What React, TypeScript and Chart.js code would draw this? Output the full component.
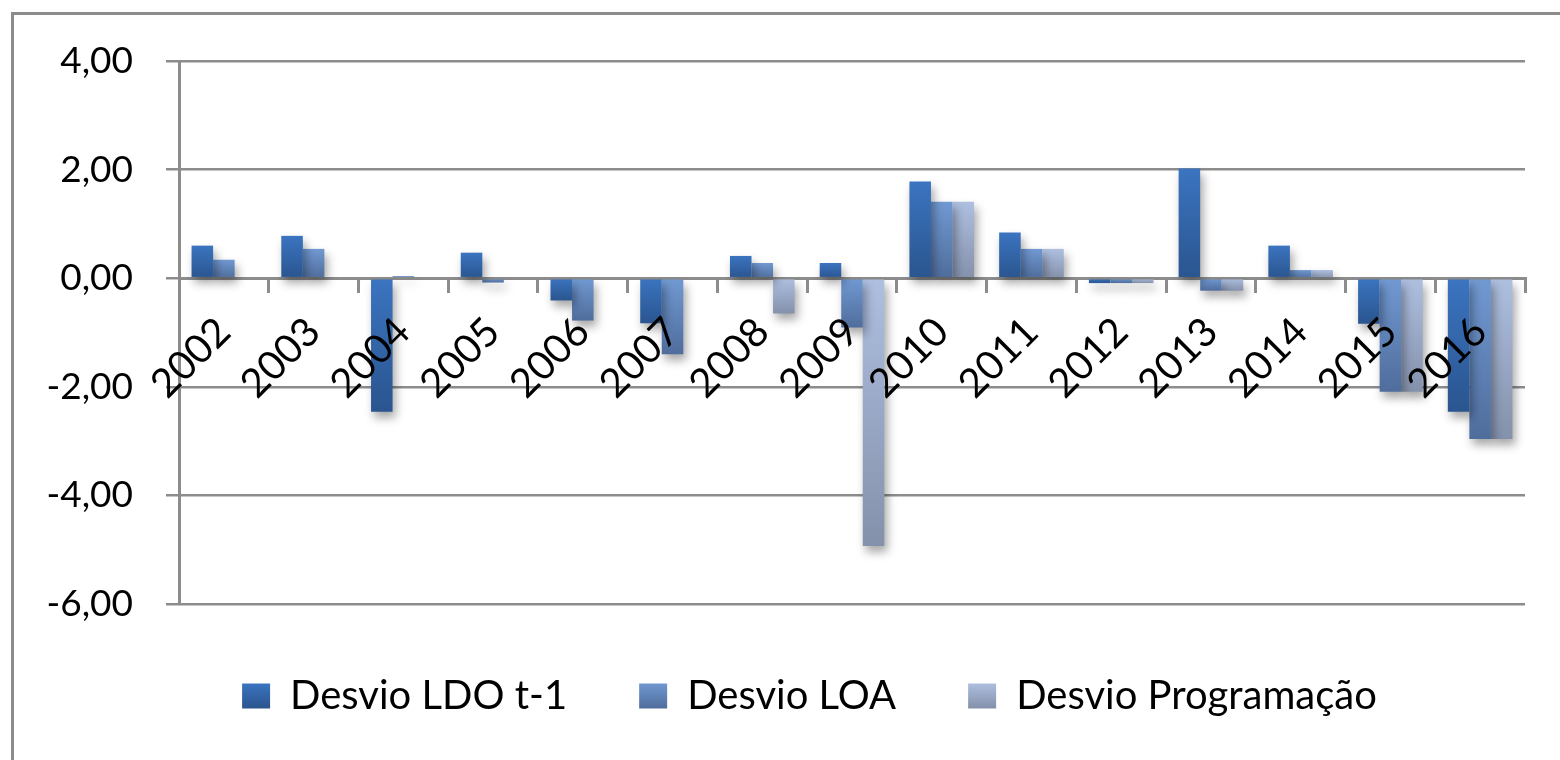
import React, { useEffect, useRef } from "react";
import { Chart, registerables } from "chart.js";

Chart.register(...registerables);

const categories = ["2002","2003","2004","2005","2006","2007","2008","2009","2010","2011","2012","2013","2014","2015","2016"];
const desvioLDO = [0.60, 0.78, -2.46, 0.47, -0.41, -0.83, 0.41, 0.28, 1.78, 0.84, -0.09, 2.02, 0.60, -0.84, -2.46];
const desvioLOA = [0.34, 0.54, 0.04, -0.08, -0.78, -1.40, 0.28, -0.91, 1.41, 0.54, -0.09, -0.23, 0.15, -2.09, -2.96];
const desvioProg = [0, 0, 0, 0, 0, 0, -0.65, -4.93, 1.41, 0.54, -0.09, -0.23, 0.15, -2.09, -2.96];
const seriesNames = ["Desvio LDO t-1", "Desvio LOA", "Desvio Programação"];
const seriesColors: [string, string][] = [
  ["#3b74c0", "#2a558f"],
  ["#7199d2", "#4f6d9c"],
  ["#aebfe0", "#8491ab"],
];
const yTicks = { min: -6, max: 4, step: 2 };

const FONT = "Lato, 'Open Sans', sans-serif";
const GRID = "#8c8c8c";
const LEGEND_SHIFT = 47;

function gradientFill(colors: [string, string]) {
  return (ctx: any) => {
    const chart = ctx.chart;
    const { chartArea, scales } = chart;
    if (!chartArea || ctx.type !== "data") return colors[0];
    const v = ctx.raw as number;
    const y0 = scales.y.getPixelForValue(0);
    const y1 = scales.y.getPixelForValue(v);
    const top = Math.min(y0, y1);
    const bot = Math.max(y0, y1);
    if (bot - top < 1) return colors[0];
    const g = chart.ctx.createLinearGradient(0, top, 0, bot);
    g.addColorStop(0, colors[0]);
    g.addColorStop(1, colors[1]);
    return g;
  };
}

const framePlugin = {
  id: "frame",
  beforeDraw(chart: any) {
    const c = chart.ctx;
    c.save();
    c.fillStyle = "#ffffff";
    c.fillRect(0, 0, chart.width, chart.height);
    c.strokeStyle = GRID;
    c.lineWidth = 3;
    c.strokeRect(12.5, 13.5, chart.width + 40, chart.height + 40);
    c.restore();
  },
};

const legendShiftPlugin = {
  id: "legendShift",
  afterLayout(chart: any) {
    const lg = chart.legend;
    if (lg) {
      lg.left += LEGEND_SHIFT;
      lg.right += LEGEND_SHIFT;
    }
  },
};

const shadowPlugin = {
  id: "barShadow",
  beforeDatasetsDraw(chart: any) {
    const c = chart.ctx;
    c.save();
    c.shadowColor = "rgba(0,0,0,0.35)";
    c.shadowBlur = 10;
    c.shadowOffsetX = 3;
    c.shadowOffsetY = 6;
  },
  afterDatasetsDraw(chart: any) {
    chart.ctx.restore();
  },
};

export default function App() {
  const ref = useRef<HTMLCanvasElement | null>(null);

  useEffect(() => {
    if (!ref.current) return;
    const data = [desvioLDO, desvioLOA, desvioProg];
    const chart = new Chart(ref.current, {
      type: "bar",
      data: {
        labels: categories,
        datasets: data.map((d, i) => ({
          label: seriesNames[i],
          data: d,
          backgroundColor: gradientFill(seriesColors[i]),
          borderWidth: 0,
          barPercentage: 1,
          categoryPercentage: 0.72,
        })),
      },
      options: {
        responsive: false,
        animation: false,
        devicePixelRatio: 1,
        layout: { padding: { left: 0, right: 35, top: 61, bottom: 34 } },
        plugins: {
          tooltip: { enabled: false },
          legend: {
            position: "bottom",
            labels: {
              boxWidth: 28,
              boxHeight: 25,
              padding: 72,
              color: "#000000",
              font: { family: FONT, size: 40 },
              generateLabels: (chart: any) =>
                chart.data.datasets.map((ds: any, i: number) => {
                  const g = chart.ctx.createLinearGradient(0, 683, 0, 708);
                  g.addColorStop(0, seriesColors[i][0]);
                  g.addColorStop(1, seriesColors[i][1]);
                  return {
                    text: ds.label,
                    fillStyle: g,
                    strokeStyle: "rgba(0,0,0,0)",
                    lineWidth: 0,
                    hidden: false,
                    datasetIndex: i,
                    fontColor: "#000000",
                  };
                }),
            },
          },
        },
        scales: {
          x: {
            type: "category",
            position: { y: 0 } as any,
            grid: {
              display: true,
              drawOnChartArea: false,
              drawTicks: true,
              tickLength: 13,
              color: GRID,
              lineWidth: 3,
              offset: true,
            },
            border: { display: true, color: GRID, width: 3 },
            ticks: {
              z: 1,
              minRotation: 45,
              maxRotation: 45,
              autoSkip: false,
              padding: 17,
              color: "#000000",
              font: { family: FONT, size: 40 },
            },
          },
          y: {
            min: yTicks.min,
            max: yTicks.max,
            afterFit: (s: any) => {
              s.width = 179;
            },
            grid: {
              color: GRID,
              lineWidth: 2.5,
              tickLength: 13,
              drawTicks: true,
            },
            border: { display: true, color: GRID, width: 3 },
            ticks: {
              stepSize: yTicks.step,
              padding: 33,
              color: "#000000",
              font: { family: FONT, size: 37 },
              callback: (v: any) => Number(v).toFixed(2).replace(".", ","),
            },
          },
        },
      },
      plugins: [framePlugin, legendShiftPlugin, shadowPlugin],
    });
    return () => chart.destroy();
  }, []);

  return (
    <div style={{ position: "fixed", left: 0, top: 0, width: 1560, height: 760 }}>
      <canvas ref={ref} width={1560} height={760} />
    </div>
  );
}
